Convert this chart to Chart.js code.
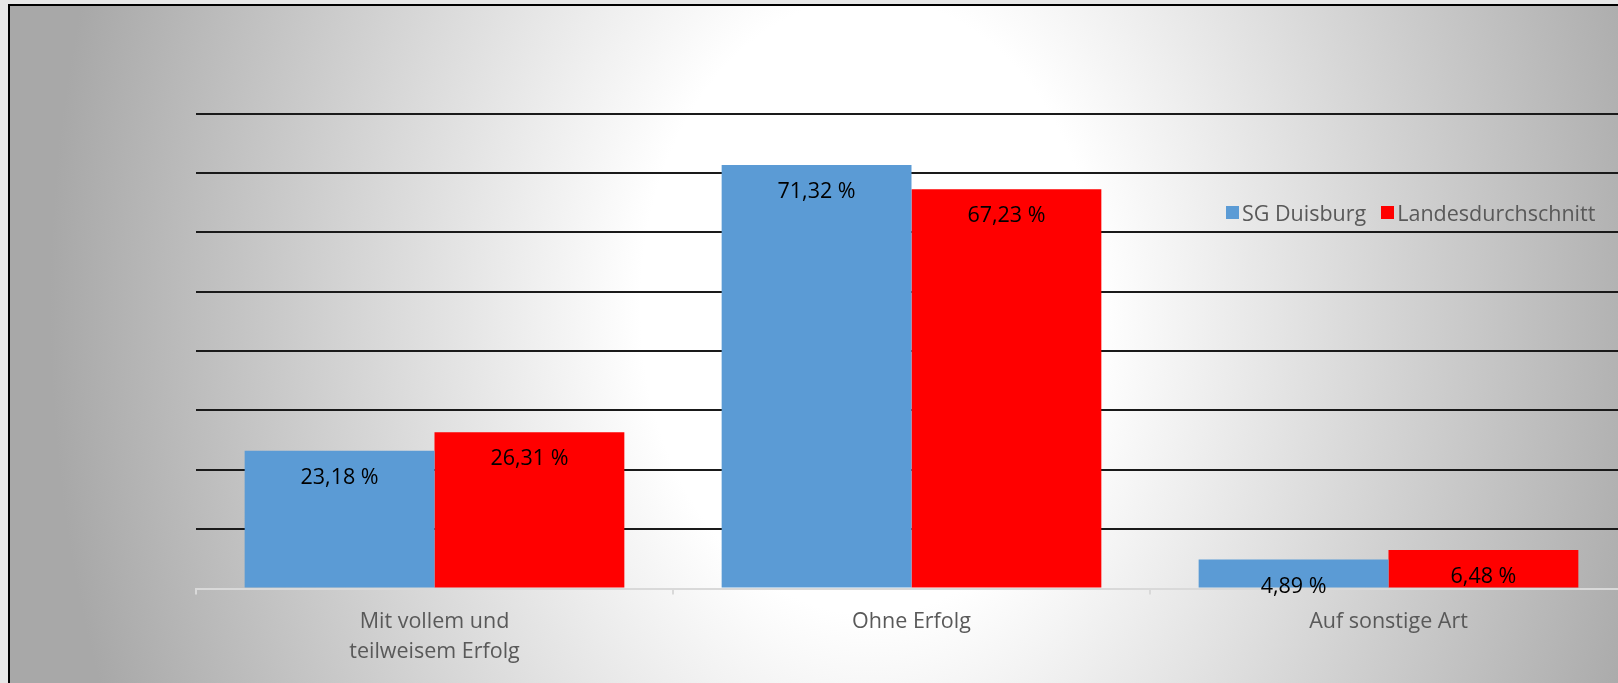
<!DOCTYPE html>
<html>
<head>
<meta charset="utf-8">
<script src="https://cdn.jsdelivr.net/npm/chart.js@4.4.1/dist/chart.umd.min.js"></script>
<style>
  html, body { margin: 0; padding: 0; }
  body { width: 1618px; height: 683px; overflow: hidden; background: #e7e7e7; position: relative; font-family: "Open Sans", sans-serif; }
  #frame {
    position: absolute; left: 8px; top: 4px; width: 1700px; height: 760px;
    border: 2px solid #000;
    background: radial-gradient(ellipse 820px 1100px at 860px 300px, #ffffff 0%, #ffffff 28%, #a8a8a8 100%);
  }
  #wrap { position: absolute; left: 0; top: 0; width: 1640px; height: 683px; }
  #legend { position: absolute; left: 1226px; top: 198px; display: flex; align-items: center; font-size: 21.5px; color: #595959; white-space: nowrap; }
  #legend .item { display: flex; align-items: center; margin-right: 15px; }
  #legend .box { width: 13px; height: 13px; margin-right: 3px; }
</style>
</head>
<body>
<div id="frame"></div>
<div id="wrap"><canvas id="barChart" width="1640" height="683"></canvas></div>
<div id="legend"></div>
<script>
const categories = [['Mit vollem und', 'teilweisem Erfolg'], 'Ohne Erfolg', 'Auf sonstige Art'];
const seriesNames = ['SG Duisburg', 'Landesdurchschnitt'];
const duisburgValues = [23.18, 71.32, 4.89];
const landesValues = [26.31, 67.23, 6.48];
const seriesColors = ['#5b9bd5', '#ff0000'];

// Beschriftung in den Balken (deutsches Zahlenformat)
const valueLabels = {
  id: 'valueLabels',
  afterDatasetsDraw(chart) {
    const ctx = chart.ctx;
    ctx.save();
    ctx.font = '21.5px "Open Sans"';
    ctx.fillStyle = '#000';
    ctx.textAlign = 'center';
    ctx.textBaseline = 'middle';
    chart.data.datasets.forEach((ds, i) => {
      chart.getDatasetMeta(i).data.forEach((bar, j) => {
        const txt = ds.data[j].toFixed(2).replace('.', ',') + ' %';
        ctx.fillText(txt, bar.x, bar.y + 27);
      });
    });
    ctx.restore();
  }
};

const chartData = {
  labels: categories,
  datasets: [{
    label: seriesNames[0],
    data: duisburgValues,
    backgroundColor: seriesColors[0]
  }, {
    label: seriesNames[1],
    data: landesValues,
    backgroundColor: seriesColors[1]
  }]
};

const chartConfig = {
  type: 'bar',
  data: chartData,
  plugins: [valueLabels],
  options: {
    responsive: false,
    animation: false,
    categoryPercentage: 0.796,
    barPercentage: 1,
    layout: {
      padding: { left: 196, right: 13, top: 113.5, bottom: 0 }
    },
    plugins: {
      legend: { display: false },
      tooltip: { enabled: false }
    },
    scales: {
      x: {
        afterFit: (scale) => { scale.height = 94.5; },
        border: { color: '#d9d9d9', width: 2 },
        grid: { drawOnChartArea: false, drawTicks: true, tickLength: 6, color: '#d9d9d9', lineWidth: 2 },
        ticks: {
          color: '#595959',
          padding: 12,
          maxRotation: 0,
          font: { family: '"Open Sans"', size: 21.5, lineHeight: 1.4 }
        }
      },
      y: {
        min: 0,
        max: 80,
        afterFit: (scale) => { scale.width = 0; },
        border: { display: false },
        grid: {
          drawTicks: false,
          lineWidth: 2,
          color: (c) => (c.tick && c.tick.value === 0) ? 'rgba(0,0,0,0)' : '#1a1a1a'
        },
        ticks: { display: false, stepSize: 10 }
      }
    }
  }
};

const barChart = new Chart(document.getElementById('barChart'), chartConfig);

// Legende als HTML
const legendEl = document.getElementById('legend');
chartData.datasets.forEach((ds) => {
  const item = document.createElement('div');
  item.className = 'item';
  const box = document.createElement('span');
  box.className = 'box';
  box.style.background = ds.backgroundColor;
  const txt = document.createElement('span');
  txt.textContent = ds.label;
  item.appendChild(box);
  item.appendChild(txt);
  legendEl.appendChild(item);
});
</script>
</body>
</html>
